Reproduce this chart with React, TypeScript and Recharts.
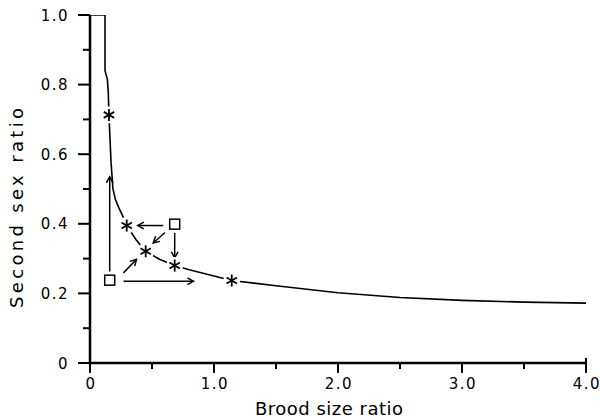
import { ComposedChart, Line, Scatter, XAxis, YAxis, ReferenceLine } from 'recharts';

// model curve (second sex ratio vs brood size ratio)
const curveX = [0, 0.121, 0.121, 0.14, 0.147, 0.153, 0.158, 0.17, 0.185, 0.205, 0.23, 0.262, 0.296, 0.37, 0.449, 0.56, 0.683, 0.8, 1.0, 1.143, 1.5, 2.0, 2.5, 3.0, 3.5, 4.0];
const curveY = [1.0, 1.0, 0.84, 0.815, 0.78, 0.713, 0.67, 0.575, 0.5, 0.47, 0.448, 0.424, 0.395, 0.355, 0.321, 0.298, 0.28, 0.268, 0.25, 0.237, 0.222, 0.202, 0.188, 0.18, 0.175, 0.172];

// equilibria (stars) and starting points (squares)
const starX = [0.153, 0.296, 0.449, 0.683, 1.143];
const starY = [0.713, 0.395, 0.321, 0.28, 0.237];
const squareX = [0.159, 0.683];
const squareY = [0.238, 0.399];

// arrows: from -> to
const arrowFromX = [0.159, 0.27, 0.27, 0.59, 0.605, 0.683];
const arrowFromY = [0.263, 0.235, 0.259, 0.395, 0.375, 0.374];
const arrowToX = [0.159, 0.835, 0.375, 0.385, 0.51, 0.683];
const arrowToY = [0.535, 0.235, 0.298, 0.395, 0.345, 0.302];

const xTicks = [0, 0.5, 1, 1.5, 2, 2.5, 3, 3.5, 4];
const yTicks = [0, 0.1, 0.2, 0.3, 0.4, 0.5, 0.6, 0.7, 0.8, 0.9, 1.0];

const curve = curveX.map((x, i) => ({ x, y: curveY[i] }));
const stars = starX.map((x, i) => ({ x, y: starY[i] }));
const squares = squareX.map((x, i) => ({ x, y: squareY[i] }));
const arrows = arrowFromX.map((x, i) => ({
  from: { x, y: arrowFromY[i] },
  to: { x: arrowToX[i], y: arrowToY[i] },
}));

const FONT = '"DejaVu Sans", Verdana, sans-serif';

const fmt = (v: number) => (v === 0 ? '0' : v.toFixed(1));

const YTick = (props: any) => {
  const { x, y, payload } = props;
  const v = payload.value;
  const major = Math.round(v * 10) % 2 === 0;
  return (
    <g>
      <line x1={x - (major ? 12 : 7)} x2={x} y1={y} y2={y} stroke="#000" strokeWidth={2} />
      {major && (
        <text x={x - 21} y={y + 5.5} textAnchor="end" fontSize={15} letterSpacing={1.5} fontFamily={FONT} fill="#000">
          {fmt(v)}
        </text>
      )}
    </g>
  );
};

const XTick = (props: any) => {
  const { x, y, payload } = props;
  const v = payload.value;
  const major = Number.isInteger(v);
  return (
    <g>
      <line x1={x} x2={x} y1={v === 4 ? y - 5 : y} y2={y + (major ? 10 : 6)} stroke="#000" strokeWidth={2} />
      {major && (
        <text x={x + 1} y={y + 26} textAnchor="middle" fontSize={15} letterSpacing={1.5} fontFamily={FONT} fill="#000">
          {fmt(v)}
        </text>
      )}
    </g>
  );
};

const Star = (props: any) => {
  const { cx, cy } = props;
  const r = 6;
  return (
    <g>
      <circle cx={cx} cy={cy} r={8.5} fill="#fff" />
      <line x1={cx} x2={cx} y1={cy - r} y2={cy + r} stroke="#000" strokeWidth={1.8} />
      <line x1={cx - r * 0.87} x2={cx + r * 0.87} y1={cy - r * 0.5} y2={cy + r * 0.5} stroke="#000" strokeWidth={1.8} />
      <line x1={cx - r * 0.87} x2={cx + r * 0.87} y1={cy + r * 0.5} y2={cy - r * 0.5} stroke="#000" strokeWidth={1.8} />
    </g>
  );
};

const Square = (props: any) => {
  const { cx, cy } = props;
  return <rect x={cx - 5} y={cy - 5} width={10} height={10} fill="#fff" stroke="#000" strokeWidth={1.5} />;
};

const Arrow = (props: any) => {
  const { x1, y1, x2, y2 } = props;
  const a = Math.atan2(y2 - y1, x2 - x1);
  const h = 7;
  const s = 0.5;
  return (
    <g fill="none" stroke="#000" strokeWidth={1.5}>
      <line x1={x1} y1={y1} x2={x2} y2={y2} />
      <polyline
        points={`${x2 - h * Math.cos(a - s)},${y2 - h * Math.sin(a - s)} ${x2},${y2} ${x2 - h * Math.cos(a + s)},${y2 - h * Math.sin(a + s)}`}
      />
    </g>
  );
};

export default function App() {
  return (
    <div style={{ position: 'absolute', left: 0, top: 0, background: '#fff' }}>
      <ComposedChart width={600} height={420} margin={{ top: 15, right: 14, left: 0, bottom: 0 }}>
        <XAxis
          dataKey="x"
          type="number"
          domain={[0, 4]}
          ticks={xTicks}
          interval={0}
          height={57}
          tickLine={false}
          tickSize={0}
          tickMargin={0}
          tick={<XTick />}
          axisLine={{ stroke: '#000', strokeWidth: 2.5 }}
          allowDataOverflow
        />
        <YAxis
          dataKey="y"
          type="number"
          domain={[0, 1]}
          ticks={yTicks}
          interval={0}
          width={90}
          tickLine={false}
          tickSize={0}
          tickMargin={0}
          tick={<YTick />}
          axisLine={{ stroke: '#000', strokeWidth: 2.5 }}
          allowDataOverflow
        />
        <Line data={curve} dataKey="y" type="linear" stroke="#000" strokeWidth={1.6} dot={false} activeDot={false} isAnimationActive={false} />
        {arrows.map((a, i) => (
          <ReferenceLine key={i} segment={[a.from, a.to]} shape={<Arrow />} ifOverflow="visible" />
        ))}
        <Scatter data={stars} dataKey="y" shape={<Star />} isAnimationActive={false} />
        <Scatter data={squares} dataKey="y" shape={<Square />} isAnimationActive={false} />
        <text x={329} y={415} textAnchor="middle" fontSize={18} fontFamily={FONT} textLength={148} lengthAdjust="spacing" fill="#000">
          Brood size ratio
        </text>
        <text
          x={0}
          y={0}
          transform="translate(23 208) rotate(-90)"
          textAnchor="middle"
          fontSize={18}
          fontFamily={FONT}
          textLength={200}
          lengthAdjust="spacing"
          fill="#000"
        >
          Second sex ratio
        </text>
      </ComposedChart>
    </div>
  );
}
